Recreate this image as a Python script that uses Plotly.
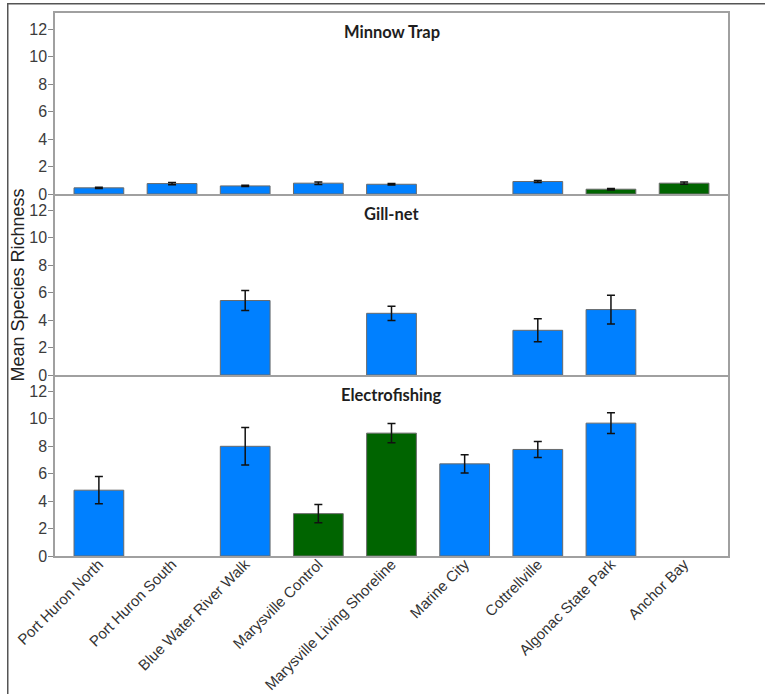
import plotly.graph_objects as go
from plotly.subplots import make_subplots

# Sampling sites along the river
sites = [
    "Port Huron North", "Port Huron South", "Blue Water River Walk",
    "Marysville Control", "Marysville Living Shoreline", "Marine City",
    "Cottrellville", "Algonac State Park", "Anchor Bay",
]

# Mean species richness and standard error per gear type (None = not sampled)
minnow_mean = [0.45, 0.76, 0.59, 0.79, 0.71, None, 0.91, 0.35, 0.79]
minnow_se = [0.05, 0.08, 0.05, 0.09, 0.06, None, 0.07, 0.05, 0.08]

gill_mean = [None, None, 5.43, None, 4.50, None, 3.26, 4.77, None]
gill_se = [None, None, 0.73, None, 0.52, None, 0.84, 1.05, None]

electro_mean = [4.80, None, 8.00, 3.09, 8.96, 6.72, 7.77, 9.69, None]
electro_se = [0.99, None, 1.37, 0.66, 0.70, 0.67, 0.58, 0.76, None]

# Site class per panel: "s" = standard site, "r" = restored / reference site
minnow_class = ["s", "s", "s", "s", "s", "s", "s", "r", "r"]
gill_class = ["s"] * 9
electro_class = ["s", "s", "s", "r", "r", "s", "s", "s", "s"]

panel_titles = ["Minnow Trap", "Gill-net", "Electrofishing"]
y_ticks = [0, 2, 4, 6, 8, 10, 12]

CLASS_COLORS = {"s": "#0080ff", "r": "#006400"}
AXIS_GREY = "#a0a0a0"
SANS = "Liberation Sans, Arial, sans-serif"

fig = make_subplots(rows=3, cols=1, shared_xaxes=True, vertical_spacing=0)

panels = [
    (minnow_mean, minnow_se, minnow_class),
    (gill_mean, gill_se, gill_class),
    (electro_mean, electro_se, electro_class),
]

for i, (mean, se, cls) in enumerate(panels, start=1):
    fig.add_trace(
        go.Bar(
            x=sites,
            y=mean,
            width=0.68,
            marker=dict(
                color=[CLASS_COLORS[c] for c in cls],
                line=dict(color="#6a6a6a", width=1),
            ),
            error_y=dict(
                type="data", array=se, visible=True,
                color="#111111", thickness=1.5, width=4,
            ),
            showlegend=False,
        ),
        row=i, col=1,
    )
    fig.update_yaxes(
        range=[0, 13.2],
        tickvals=y_ticks,
        ticks="outside", ticklen=5, tickcolor="#888888",
        ticklabelstandoff=-2,
        tickfont=dict(family=SANS, size=16, color="#3c3c3c"),
        showgrid=False, zeroline=False, automargin=False,
        showline=True, linecolor=AXIS_GREY, linewidth=1.5, mirror=True,
        row=i, col=1,
    )
    # only the top panel draws its upper edge; lower panels share the line above
    fig.update_xaxes(
        range=[-0.6, 8.6],
        showgrid=False, zeroline=False, automargin=False,
        showline=True, linecolor=AXIS_GREY, linewidth=1.5,
        mirror=(i == 1),
        ticks="",
        row=i, col=1,
    )

fig.update_xaxes(
    tickangle=-45,
    ticklabelstandoff=-8,
    tickfont=dict(family=SANS, size=15, color="#333333"),
    row=3, col=1,
)

# Panel titles
title_y = [0.965, 0.630, 0.2965]
for text, yy in zip(panel_titles, title_y):
    fig.add_annotation(
        text=f"<b>{text}</b>", x=0.5, y=yy, xref="paper", yref="paper",
        showarrow=False, xanchor="center", yanchor="middle",
        font=dict(family="Lato, sans-serif", size=16.5, color="#1e1e1e"),
    )

# Shared y-axis title
fig.add_annotation(
    text="Mean Species Richness", x=-0.055, y=0.5, xref="paper", yref="paper",
    textangle=-90, showarrow=False, xanchor="center", yanchor="middle",
    font=dict(family=SANS, size=18, color="#222222"),
)

# Outer frame around the whole figure, drawn as an empty bordered box
fig.add_annotation(
    text=" ", x=-0.0713, y=1.0193, xref="paper", yref="paper",
    xanchor="left", yanchor="top", showarrow=False,
    width=800, height=720, borderpad=0,
    bordercolor="#555555", borderwidth=1.5, bgcolor="rgba(0,0,0,0)",
)

fig.update_layout(
    width=765, height=694,
    margin=dict(l=55, r=37, t=13, b=138),
    paper_bgcolor="white", plot_bgcolor="white",
)

fig.write_html("out.html")
